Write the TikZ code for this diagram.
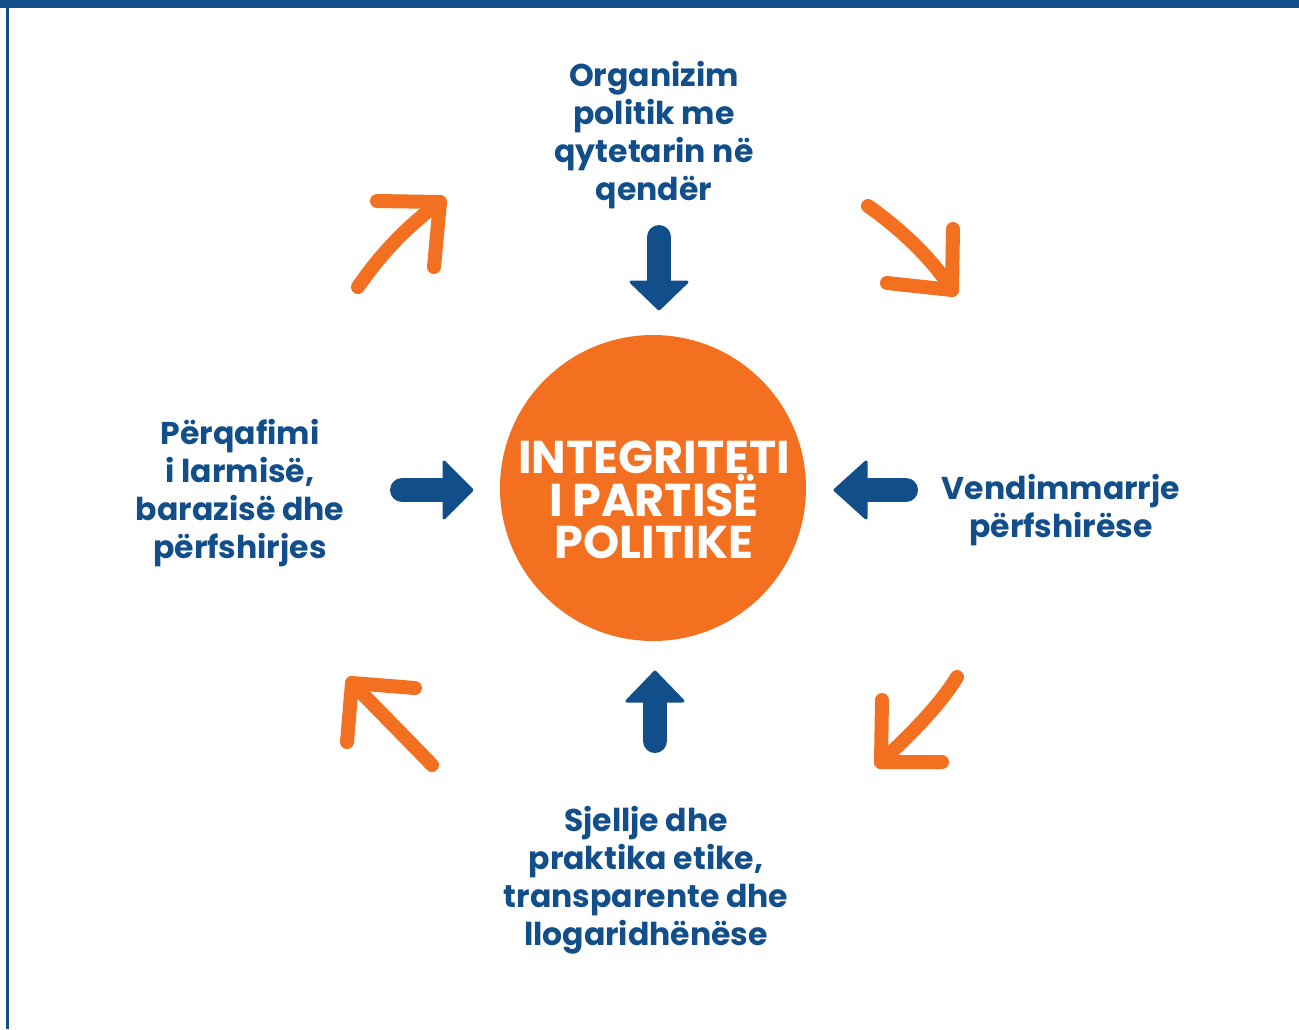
\documentclass[tikz,border=0pt]{standalone}
\usepackage{fontspec}
\setmainfont{Poppins}
\definecolor{pblue}{HTML}{114E8A}
\definecolor{porange}{HTML}{F37021}
\begin{document}
\begin{tikzpicture}[x=1pt,y=-1pt,
  lab/.style={text=pblue, font=\bfseries\fontsize{31.5}{38}\selectfont, align=center, inner sep=0pt},
  ctr/.style={circle, fill=porange, minimum size=306pt, inner sep=0pt},
  ctrtext/.style={text=white, font=\bfseries\fontsize{46}{42}\selectfont, align=center, inner sep=0pt},
  oarr/.style={draw=porange, line width=14pt, line cap=round, line join=round},
  bshaft/.style={draw=pblue, line width=24pt, line cap=round},
  bhead/.style={fill=pblue, draw=pblue, line width=3pt, line join=round}]
\useasboundingbox (0,0) rectangle (1299,1029);
\fill[pblue] (0,0) rectangle (1299,8);
\fill[pblue] (6,0) rectangle (8.5,1029);

\node[ctr] (c) at (653,488) {};
\node[ctrtext] (ct) at (654,500) {INTEGRITETI\\I PARTISË\\POLITIKE};

\node[lab] (t) at (654,135) {Organizim\\politik me\\qytetarin në\\qendër};
\node[lab] (l) at (240,493) {Përqafimi\\i larmisë,\\barazisë dhe\\përfshirjes};
\node[lab] (r) at (1061,510) {Vendimmarrje\\përfshirëse};
\node[lab] (b) at (646,880) {Sjellje dhe\\praktika etike,\\transparente dhe\\llogaridhënëse};

% blue arrows
\draw[bshaft] (659,237) -- (659,284);
\filldraw[bhead] (631,282) -- (687,282) -- (659,309) -- cycle;
\draw[bshaft] (402,490) -- (446,490);
\filldraw[bhead] (444,462) -- (444,518) -- (472,490) -- cycle;
\draw[bshaft] (906,490) -- (866,490);
\filldraw[bhead] (866,462) -- (866,518) -- (835,490) -- cycle;
\draw[bshaft] (655,741) -- (655,700);
\filldraw[bhead] (627,701) -- (683,701) -- (655,672) -- cycle;

% orange arrows
\draw[oarr] (358,287) .. controls (380,255) and (405,228) .. (440,202);
\draw[oarr] (377,201) -- (440,202) -- (434,267);
\draw[oarr] (868,206) .. controls (895,225) and (930,255) .. (952,290);
\draw[oarr] (953,229) -- (952,290) -- (887,283);
\draw[oarr] (957,677) .. controls (940,705) and (910,735) .. (881,762);
\draw[oarr] (882,700) -- (881,762) -- (942,762);
\draw[oarr] (432,765) .. controls (410,742) and (380,712) .. (352,683);
\draw[oarr] (415,688) -- (352,683) -- (347,742);
\end{tikzpicture}
\end{document}
